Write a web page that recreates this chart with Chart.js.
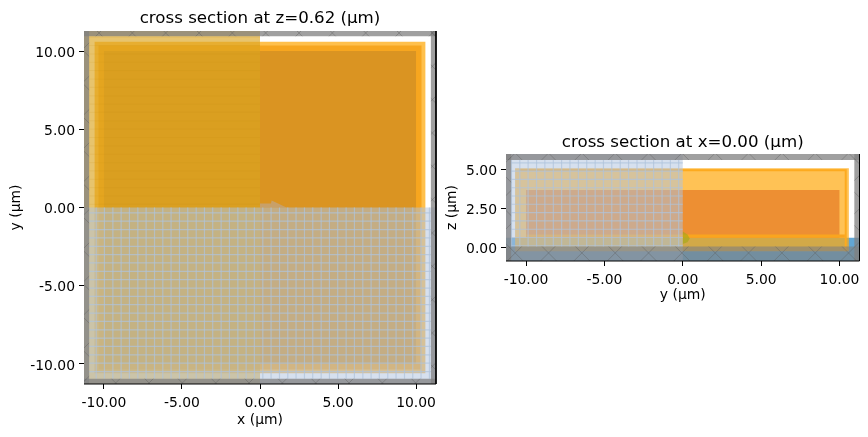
<!DOCTYPE html>
<html>
<head>
    <meta charset="utf-8">
    <title>cross sections</title>
    <script src="https://cdn.jsdelivr.net/npm/chart.js"></script>
    <style>
        body { margin: 0; background: #fff; }
        canvas { position: absolute; top: 0; }
    </style>
</head>
<body>
    <canvas id="planXY" width="440" height="437" style="left:0"></canvas>
    <canvas id="planYZ" width="428" height="310" style="left:440px"></canvas>
    <script>
        // axis ticks and limits (um)
        var xyTicks = [-10, -5, 0, 5, 10];
        var yzTicksX = [-10, -5, 0, 5, 10];
        var yzTicksZ = [0, 2.5, 5];
        var xyLimits = [-11.28, 11.28, -11.28, 11.28];
        var yzLimits = [-11.28, 11.28, -0.9, 5.98];

        // boxes are [x0, x1, y0, y1]
        var pmlXY = [
            [-11.28, -10.95, -11.28, 11.28],
            [10.95, 11.28, -11.28, 11.28],
            [-11.28, 11.28, -11.28, -10.95],
            [-11.28, 11.28, 10.95, 11.28]
        ];
        var outerXY = [-10.6, 10.6, -10.6, 10.6];
        var middleXY = [-10.35, 10.35, -10.35, 10.35];
        var innerXY = [-10, 10, -10, 10];
        var goldXY = [-11.28, 0, -11.28, 11.28];
        var meshBoxXY = [-11.28, 11.28, -11.28, 0];
        var bumpXY = [[0, 0], [0, 0.25], [0.7, 0.25], [0.75, 0.45], [1.7, 0]];

        var meshXonXY = [-10.5, -9.97, -9.43, -8.9, -8.37, -7.83, -7.3, -6.76, -6.23, -5.7, -5.16, -4.63, -4.09, -3.56, -3.03, -2.49, -1.96, -1.42, -0.89, -0.36, 0.18, 0.71, 1.25, 1.78, 2.31, 2.85, 3.38, 3.92, 4.45, 4.98, 5.52, 6.05, 6.59, 7.12, 7.65, 8.19, 8.72, 9.26, 9.79, 10.32, 10.86];
        var meshYonXY = [-0.34, -0.87, -1.41, -1.94, -2.48, -3.01, -3.54, -4.08, -4.61, -5.15, -5.68, -6.21, -6.75, -7.28, -7.82, -8.35, -8.88, -9.42, -9.95, -10.49];
        var faintYonXY = [0.2, 0.74, 1.27, 1.8, 2.34, 2.87, 3.41, 3.94, 4.47, 5.01, 5.54, 6.08, 6.61, 7.14, 7.68, 8.21, 8.75, 9.28, 9.81, 10.35, 10.88];

        var pmlYZ = [
            [-11.28, -10.95, -0.9, 5.98],
            [10.95, 11.28, -0.9, 5.98],
            [-11.28, 11.28, 5.6, 5.98]
        ];
        var floorYZ = [-11.28, 11.28, -0.9, 0.03];
        var substrateYZ = [-11.28, 11.28, -0.9, 0.6];
        var outerYZ = [-10.7, 10.6, -0.28, 5.06];
        var innerYZ = [-10, 10, 0.6, 3.67];
        var bandYZ = [-10, 10.35, 0.6, 0.8];
        var rimYZ = [[-10.45, 4.93], [10.4, 4.93], [10.4, -0.28]];
        var meshBoxYZ = [-11.28, 0, -0.9, 5.98];
        var spotYZ = [[0, 1], [0.3, 0.8], [0.45, 0.55], [0.3, 0.3], [0, 0.2]];

        var meshXonYZ = [-10.93, -10.4, -9.87, -9.33, -8.8, -8.26, -7.73, -7.2, -6.66, -6.13, -5.59, -5.06, -4.53, -3.99, -3.46, -2.92, -2.39, -1.86, -1.32, -0.79, -0.26];
        var meshZonYZ = [0.08, 0.61, 1.14, 1.68, 2.21, 2.75, 3.28, 3.81, 4.35, 4.88, 5.41];

        var FONT = "'DejaVu Sans'";

        function box(b) {
            return [
                {x: b[0], y: b[2]}, {x: b[1], y: b[2]},
                {x: b[1], y: b[3]}, {x: b[0], y: b[3]}
            ];
        }

        function poly(pts) {
            return pts.map(function(p) { return {x: p[0], y: p[1]}; });
        }

        function shape(points, color) {
            return {
                data: points, showLine: true, fill: 'shape', tension: 0,
                backgroundColor: color, borderWidth: 0, pointRadius: 0
            };
        }

        function lines(points, color, width, clip) {
            return {
                data: points, showLine: true, fill: false, tension: 0,
                borderColor: color, borderWidth: width, pointRadius: 0, clip: clip
            };
        }

        // vertical and horizontal mesh lines, broken with gaps
        function mesh(xs, ys, b) {
            var pts = [];
            xs.forEach(function(v) {
                pts.push({x: v, y: b[2]}, {x: v, y: b[3]}, {x: null, y: null});
            });
            ys.forEach(function(v) {
                pts.push({x: b[0], y: v}, {x: b[1], y: v}, {x: null, y: null});
            });
            return pts;
        }

        // x-hatch tile, 3 periods of 33.33px so that it repeats cleanly
        function hatch(c1, c2) {
            var tile = document.createElement('canvas');
            tile.width = tile.height = 100;
            var g = tile.getContext('2d');
            g.strokeStyle = 'rgba(95,95,95,0.42)';
            g.lineWidth = 1;
            for (var k = -4; k < 9; k++) {
                var a = c1 + k * 100 / 3, b = c2 + k * 100 / 3;
                g.beginPath(); g.moveTo(a + 100, -100); g.lineTo(a - 200, 200); g.stroke();
                g.beginPath(); g.moveTo(b - 100, -100); g.lineTo(b + 200, 200); g.stroke();
            }
            return g.createPattern(tile, 'repeat');
        }

        function axis(pos, min, max, ticks, label, size, titlePad) {
            return {
                type: 'linear', position: pos, min: min, max: max,
                afterBuildTicks: function(s) {
                    s.ticks = ticks.map(function(v) { return {value: v}; });
                },
                afterFit: function(s) {
                    if (pos === 'left') s.width = size; else s.height = size;
                    // keep the plot area where it is, labels may hang over
                    s.paddingLeft = s.paddingRight = s.paddingTop = s.paddingBottom = 0;
                },
                grid: {drawOnChartArea: false, drawTicks: true, tickLength: 5, tickColor: '#000', tickWidth: 1},
                border: {display: false},
                ticks: {
                    color: '#000', font: {family: FONT, size: 13.9},
                    padding: pos === 'left' ? 4 : 6,
                    labelOffset: pos === 'left' ? 2 : 0,
                    maxRotation: 0, autoSkip: false, includeBounds: false,
                    callback: function(v) { return v.toFixed(2); }
                },
                title: {
                    display: true, text: label, color: '#000',
                    font: {family: FONT, size: 13.9}, padding: titlePad
                }
            };
        }

        function draw(id, datasets, limits, xTicks, yTicks, xLabel, yLabel, titleText, opts) {
            var frame = [
                {x: limits[1], y: limits[3]}, {x: limits[1], y: limits[2]}, {x: limits[0], y: limits[2]}
            ];
            datasets.push(lines(frame, '#000', 1, false));
            datasets.forEach(function(d, i) { d.order = datasets.length - i; });
            return new Chart(document.getElementById(id), {
                type: 'scatter',
                data: {datasets: datasets},
                options: {
                    responsive: false, animation: false, devicePixelRatio: 1,
                    layout: {padding: {right: opts.right}},
                    plugins: {
                        legend: {display: false}, tooltip: {enabled: false},
                        title: {
                            display: true, text: titleText, color: '#000', fullSize: false,
                            font: {family: FONT, size: 16.67, weight: 'normal'},
                            padding: opts.titlePad
                        }
                    },
                    scales: {
                        x: axis('bottom', limits[0], limits[1], xTicks, xLabel, opts.xSize, {top: 0, bottom: opts.xTitleBottom}),
                        y: axis('left', limits[2], limits[3], yTicks, yLabel, opts.ySize, {top: opts.yTitleTop, bottom: 0})
                    }
                }
            });
        }

        var steel = 'rgba(176,196,222,';
        var meshLine = 'rgba(175,195,220,0.7)';
        var hatchXY = hatch(32, 32.7);
        var xyDatasets = [
            shape(box(outerXY), 'rgba(255,165,0,0.7)'),
            shape(box(middleXY), 'rgba(245,160,20,0.8)'),
            shape(box(innerXY), 'rgba(217,148,36,0.95)'),
            shape(box(goldXY), 'rgba(218,165,32,0.65)'),
            lines(mesh([], faintYonXY, [-10.95, 0, 0, 0]), 'rgba(195,145,20,0.14)', 1, true),
            shape(poly(bumpXY), 'rgb(200,160,105)'),
            shape(box(meshBoxXY), steel + '0.52)'),
            lines(mesh(meshXonXY, [], [-10.95, 10.95, -10.95, 0]), meshLine, 1.2, true),
            lines(mesh([], meshYonXY, [-10.95, 10.95, 0, 0]), meshLine, 1.2, true)
        ];
        pmlXY.forEach(function(b) {
            xyDatasets.push(shape(box(b), 'rgba(128,128,128,0.75)'));
        });
        pmlXY.forEach(function(b) {
            xyDatasets.push(shape(box(b), hatchXY));
        });

        draw('planXY', xyDatasets, xyLimits, xyTicks, xyTicks, 'x (µm)', 'y (µm)', 'cross section at z=0.62 (µm)', {
            right: 4, xSize: 53, ySize: 84, xTitleBottom: 8, yTitleTop: 8,
            titlePad: {top: 9, bottom: 2}
        });

        var hatchYZ = hatch(28.2, 22.2);
        var yzDatasets = [
            shape(box(substrateYZ), 'rgba(70,150,205,0.85)'),
            shape(box(outerYZ), 'rgba(255,170,20,0.72)'),
            shape(box(innerYZ), 'rgb(237,143,51)'),
            shape(box(bandYZ), 'rgb(250,165,30)'),
            lines(poly(rimYZ), 'rgb(253,170,30)', 2, true),
            shape(poly(spotYZ), 'rgba(160,170,20,0.6)'),
            shape(box(meshBoxYZ), steel + '0.52)'),
            lines(mesh(meshXonYZ, [], [-10.95, 0, 0, 5.6]), meshLine, 1.2, true),
            lines(mesh([], meshZonYZ, [-10.95, 0, 0, 0]), meshLine, 1.2, true),
            shape(box(floorYZ), 'rgba(128,128,128,0.62)'),
            shape(box(floorYZ), hatchYZ)
        ];
        pmlYZ.forEach(function(b) {
            yzDatasets.push(shape(box(b), 'rgba(128,128,128,0.75)'));
        });
        pmlYZ.forEach(function(b) {
            yzDatasets.push(shape(box(b), hatchYZ));
        });

        draw('planYZ', yzDatasets, yzLimits, yzTicksX, yzTicksZ, 'y (µm)', 'z (µm)', 'cross section at x=0.00 (µm)', {
            right: 8.5, xSize: 49, ySize: 66, xTitleBottom: 6, yTitleTop: 4,
            titlePad: {top: 132.5, bottom: 1.5}
        });
    </script>
</body>
</html>
